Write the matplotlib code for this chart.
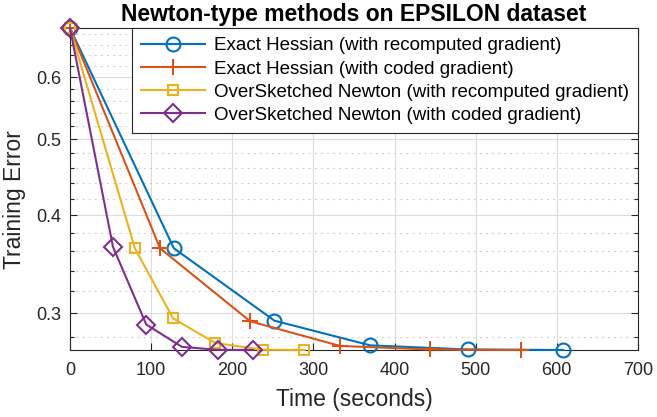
import numpy as np
import matplotlib
matplotlib.use("Agg")
import matplotlib.pyplot as plt
from matplotlib.ticker import FixedLocator, NullFormatter

plt.rcParams['font.family'] = ['Liberation Sans', 'DejaVu Sans']

# data (time in seconds, training error)
labels = ["Exact Hessian (with recomputed gradient)",
          "Exact Hessian (with coded gradient)",
          "OverSketched Newton (with recomputed gradient)",
          "OverSketched Newton (with coded gradient)"]

exact_rec_t = [0, 128, 252, 370, 490, 608]
exact_rec_err = [0.6931, 0.363, 0.2935, 0.2730, 0.2697, 0.2693]

exact_cod_t = [0, 111, 222, 333, 444, 556]
exact_cod_err = [0.6931, 0.363, 0.2930, 0.2725, 0.2697, 0.2693]

os_rec_t = [0, 80, 127, 179, 238, 289]
os_rec_err = [0.6931, 0.363, 0.2955, 0.2749, 0.2695, 0.2693]

os_cod_t = [0, 53, 94, 138, 182, 226]
os_cod_err = [0.6931, 0.3646, 0.2902, 0.2718, 0.2694, 0.2693]

yticks_major = [0.3, 0.4, 0.5, 0.6]
yticks_minor = [0.28, 0.32, 0.34, 0.36, 0.38, 0.42, 0.44, 0.46, 0.48,
                0.52, 0.54, 0.56, 0.58, 0.62, 0.64, 0.66, 0.68]
xticks = [0, 100, 200, 300, 400, 500, 600, 700]

# matlab default colours
colors = ['#0072BD', '#D95319', '#EDB120', '#7E2F8E']
markers = ['o', '+', 's', 'D']
msizes = [10, 12, 7, 9]

fig = plt.figure(figsize=(6.57, 4.17), dpi=100)
ax = fig.add_axes([0.1065, 0.1607, 0.8645, 0.7722])

series = [(exact_rec_t, exact_rec_err), (exact_cod_t, exact_cod_err),
          (os_rec_t, os_rec_err), (os_cod_t, os_cod_err)]
for (t, e), c, m, ms, lab in zip(series, colors, markers, msizes, labels):
    ax.plot(t, e, color=c, marker=m, markersize=ms, markerfacecolor='none',
            markeredgewidth=1.5, linewidth=1.5, label=lab, clip_on=False, zorder=3)

ax.set_yscale('log')
ax.set_xlim(0, 700)
ax.set_ylim(min(os_cod_err), max(os_cod_err))

ax.set_xticks(xticks)
ax.yaxis.set_major_locator(FixedLocator(yticks_major))
ax.set_yticklabels([str(v) for v in yticks_major])
ax.xaxis.set_minor_locator(FixedLocator([]))
ax.yaxis.set_minor_locator(FixedLocator(yticks_minor))
ax.yaxis.set_minor_formatter(NullFormatter())

ax.grid(True, which='major', color='#dcdcdc', linewidth=0.8, linestyle='-')
ax.grid(True, which='minor', axis='y', color='#c8c8c8', linewidth=0.8, linestyle=(0, (1.5, 4)))
ax.set_axisbelow(True)

ax.tick_params(which='both', direction='in', top=True, right=True, colors='#262626',
               labelsize=13, width=0.8)
ax.tick_params(which='major', length=5)
ax.tick_params(axis='x', which='major', pad=9)
ax.tick_params(axis='y', which='major', pad=6)
ax.tick_params(which='minor', length=3)
for s in ax.spines.values():
    s.set_color('#262626')
    s.set_linewidth(0.8)

ax.set_xlabel('Time (seconds)', fontsize=16.5, color='#262626', labelpad=6)
ax.set_ylabel('Training Error', fontsize=16.5, color='#262626', va='center')
ax.yaxis.set_label_coords(-0.097, 0.466)
ax.set_title('Newton-type methods on EPSILON dataset', fontsize=16.5, fontweight='bold', pad=5)

leg = ax.legend(loc='upper right', borderaxespad=0, fontsize=13.5, fancybox=False,
                framealpha=1, edgecolor='#262626', handlelength=3.4, handletextpad=0.45,
                labelspacing=0.32, borderpad=0.5)
leg.get_frame().set_linewidth(0.8)

fig.savefig('out.png', dpi=100)
